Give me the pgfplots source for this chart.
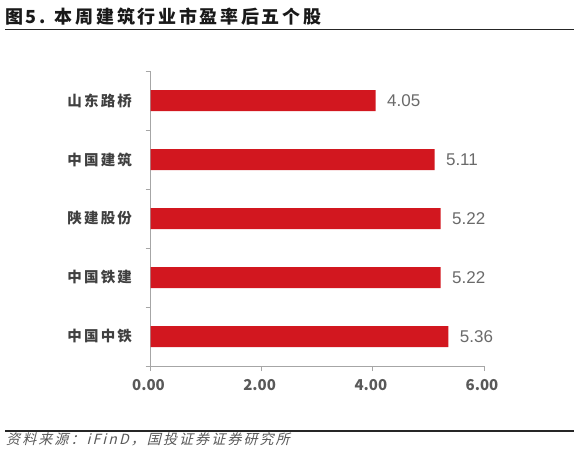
\documentclass[border=0pt]{standalone}
\usepackage{pgfplots}
\pgfplotsset{compat=1.18}
\usepackage{fontspec}
\setmainfont{Liberation Sans}
\newfontfamily\cjk{Noto Sans CJK SC}
\newfontfamily\cjksp[LetterSpace=15]{Noto Sans CJK SC}
\newfontfamily\cjkslant[FakeSlant=0.25,LetterSpace=15]{Noto Sans CJK SC}
\definecolor{barred}{HTML}{D2171F}
\definecolor{axisgray}{HTML}{A6A6A6}
\definecolor{labgray}{HTML}{595959}
\definecolor{numgray}{HTML}{6A6A6A}
\definecolor{catgray}{HTML}{404040}
\begin{document}
\begin{tikzpicture}[x=1pt,y=1pt]
\path[use as bounding box] (0,0) rectangle (578,456);
\node[anchor=west, inner sep=0pt, font=\cjksp\bfseries\fontsize{18}{18}\selectfont, text=black!90] at (5,439) {图5. 本周建筑行业市盈率后五个股};
\draw[line width=1.8pt, color=black!85] (5,426.5) -- (574,426.5);
\draw[line width=1.8pt, color=black!85] (5,25) -- (574,25);
\node[anchor=west, inner sep=0pt, font=\cjkslant\fontsize{14}{14}\selectfont, text=labgray] at (6,16.5) {资料来源：iFinD，国投证券证券研究所};
\begin{axis}[
  at={(150.5pt,90pt)}, anchor=south west,
  scale only axis, width=333.5pt, height=295pt,
  xbar, bar width=21pt,
  xmin=0, xmax=6, ymin=0.5, ymax=5.5,
  axis x line*=bottom, axis y line*=left,
  axis line style={draw=axisgray, line width=0.9pt},
  tick align=outside,
  major tick length=5pt, minor tick length=5pt,
  xtick={0,2,4,6},
  xticklabels={0.00,2.00,4.00,6.00},
  xticklabel style={font=\cjk\bfseries\fontsize{15}{15}\selectfont, text=labgray, yshift=-5pt, xshift=-2pt},
  x tick style={draw=axisgray, line width=0.9pt},
  ytick={1,2,3,4,5},
  yticklabels={中国中铁,中国铁建,陕建股份,中国建筑,山东路桥},
  yticklabel style={font=\cjksp\bfseries\fontsize{14.5}{14.5}\selectfont, text=catgray, xshift=-10pt},
  minor ytick={0.5,1.5,2.5,3.5,4.5,5.5},
  major y tick style={draw=none},
  minor y tick style={draw=axisgray, line width=0.9pt},
  clip=false,
  point meta=x,
  nodes near coords,
  nodes near coords style={font=\fontsize{17}{17}\selectfont, text=numgray, xshift=8pt,
    /pgf/number format/.cd, fixed, fixed zerofill, precision=2, assume math mode=true},
]
\addplot[fill=barred, draw=none] coordinates {(5.36,1) (5.22,2) (5.22,3) (5.11,4) (4.05,5)};
\end{axis}
\end{tikzpicture}
\end{document}
